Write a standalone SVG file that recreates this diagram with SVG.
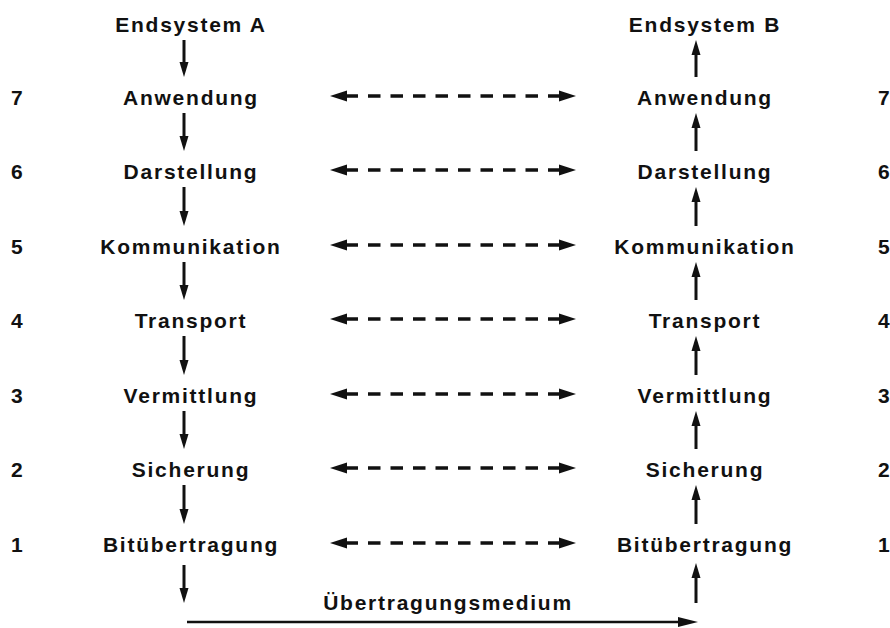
<svg xmlns="http://www.w3.org/2000/svg" width="890" height="628" viewBox="0 0 890 628">
  <style>
    text { font-family: "Liberation Sans", Arial, Helvetica, sans-serif; font-weight: bold; font-size: 21px; letter-spacing: 1.75px; fill: #111; }
    .c { text-anchor: middle; }
    .line { stroke: #111; stroke-width: 3; fill: none; }
    .dash { stroke: #111; stroke-width: 3.5; fill: none; stroke-dasharray: 12.5 10; }
    .head { fill: #111; }
  </style>
  <rect width="890" height="628" fill="#fff"/>

  <!-- layer numbers -->
  <g id="numbers-left">
    <text x="11" y="105">7</text>
    <text x="11" y="179">6</text>
    <text x="11" y="254">5</text>
    <text x="11" y="328">4</text>
    <text x="11" y="403">3</text>
    <text x="11" y="477">2</text>
    <text x="11" y="552">1</text>
  </g>
  <g id="numbers-right">
    <text x="878" y="105">7</text>
    <text x="878" y="179">6</text>
    <text x="878" y="254">5</text>
    <text x="878" y="328">4</text>
    <text x="878" y="403">3</text>
    <text x="878" y="477">2</text>
    <text x="878" y="552">1</text>
  </g>

  <!-- end system A stack -->
  <g id="a-endsystem"><text class="c" x="191" y="32">Endsystem A</text></g>
  <g id="a-7"><text class="c" x="191" y="105">Anwendung</text></g>
  <g id="a-6"><text class="c" x="191" y="179">Darstellung</text></g>
  <g id="a-5"><text class="c" x="191" y="254">Kommunikation</text></g>
  <g id="a-4"><text class="c" x="191" y="328">Transport</text></g>
  <g id="a-3"><text class="c" x="191" y="403">Vermittlung</text></g>
  <g id="a-2"><text class="c" x="191" y="477">Sicherung</text></g>
  <g id="a-1"><text class="c" x="191" y="552">Bitübertragung</text></g>

  <!-- end system B stack -->
  <g id="b-endsystem"><text class="c" x="705" y="32">Endsystem B</text></g>
  <g id="b-7"><text class="c" x="705" y="105">Anwendung</text></g>
  <g id="b-6"><text class="c" x="705" y="179">Darstellung</text></g>
  <g id="b-5"><text class="c" x="705" y="254">Kommunikation</text></g>
  <g id="b-4"><text class="c" x="705" y="328">Transport</text></g>
  <g id="b-3"><text class="c" x="705" y="403">Vermittlung</text></g>
  <g id="b-2"><text class="c" x="705" y="477">Sicherung</text></g>
  <g id="b-1"><text class="c" x="705" y="552">Bitübertragung</text></g>

  <g id="medium"><text class="c" x="448" y="610">Übertragungsmedium</text></g>

  <g id="connectors">
    <!-- downward flow in A -->
    <g id="a-down">
      <line class="line" x1="184" y1="40" x2="184" y2="64"/><polygon class="head" points="179.5,62 188.5,62 184,77"/>
      <line class="line" x1="184" y1="113" x2="184" y2="138"/><polygon class="head" points="179.5,136 188.5,136 184,151"/>
      <line class="line" x1="184" y1="187" x2="184" y2="213"/><polygon class="head" points="179.5,211 188.5,211 184,226"/>
      <line class="line" x1="184" y1="262" x2="184" y2="287"/><polygon class="head" points="179.5,285 188.5,285 184,300"/>
      <line class="line" x1="184" y1="336" x2="184" y2="362"/><polygon class="head" points="179.5,360 188.5,360 184,375"/>
      <line class="line" x1="184" y1="411" x2="184" y2="436"/><polygon class="head" points="179.5,434 188.5,434 184,449"/>
      <line class="line" x1="184" y1="485" x2="184" y2="511"/><polygon class="head" points="179.5,509 188.5,509 184,524"/>
      <line class="line" x1="184" y1="565" x2="184" y2="590"/><polygon class="head" points="179.5,588 188.5,588 184,603"/>
    </g>
    <!-- upward flow in B -->
    <g id="b-up">
      <line class="line" x1="696" y1="77" x2="696" y2="53"/><polygon class="head" points="691.5,55 700.5,55 696,40"/>
      <line class="line" x1="696" y1="151" x2="696" y2="126"/><polygon class="head" points="691.5,128 700.5,128 696,113"/>
      <line class="line" x1="696" y1="226" x2="696" y2="200"/><polygon class="head" points="691.5,202 700.5,202 696,187"/>
      <line class="line" x1="696" y1="300" x2="696" y2="275"/><polygon class="head" points="691.5,277 700.5,277 696,262"/>
      <line class="line" x1="696" y1="375" x2="696" y2="349"/><polygon class="head" points="691.5,351 700.5,351 696,336"/>
      <line class="line" x1="696" y1="449" x2="696" y2="424"/><polygon class="head" points="691.5,426 700.5,426 696,411"/>
      <line class="line" x1="696" y1="524" x2="696" y2="498"/><polygon class="head" points="691.5,500 700.5,500 696,485"/>
      <line class="line" x1="696" y1="603" x2="696" y2="576"/><polygon class="head" points="691.5,578 700.5,578 696,563"/>
    </g>
    <!-- peer-to-peer dashed links -->
    <g id="peer-links">
      <line class="dash" x1="345.5" y1="96" x2="561" y2="96"/><polygon class="head" points="330,96 347,90.5 347,101.5"/><polygon class="head" points="576,96 559,90.5 559,101.5"/>
      <line class="dash" x1="345.5" y1="170" x2="561" y2="170"/><polygon class="head" points="330,170 347,164.5 347,175.5"/><polygon class="head" points="576,170 559,164.5 559,175.5"/>
      <line class="dash" x1="345.5" y1="245" x2="561" y2="245"/><polygon class="head" points="330,245 347,239.5 347,250.5"/><polygon class="head" points="576,245 559,239.5 559,250.5"/>
      <line class="dash" x1="345.5" y1="319" x2="561" y2="319"/><polygon class="head" points="330,319 347,313.5 347,324.5"/><polygon class="head" points="576,319 559,313.5 559,324.5"/>
      <line class="dash" x1="345.5" y1="394" x2="561" y2="394"/><polygon class="head" points="330,394 347,388.5 347,399.5"/><polygon class="head" points="576,394 559,388.5 559,399.5"/>
      <line class="dash" x1="345.5" y1="468" x2="561" y2="468"/><polygon class="head" points="330,468 347,462.5 347,473.5"/><polygon class="head" points="576,468 559,462.5 559,473.5"/>
      <line class="dash" x1="345.5" y1="543" x2="561" y2="543"/><polygon class="head" points="330,543 347,537.5 347,548.5"/><polygon class="head" points="576,543 559,537.5 559,548.5"/>
    </g>
    <!-- physical medium -->
    <g id="medium-link">
      <line class="line" x1="187" y1="622" x2="682" y2="622" style="stroke-width:2.5"/>
      <polygon class="head" points="678,617 698,622 678,627"/>
    </g>
  </g>
</svg>
